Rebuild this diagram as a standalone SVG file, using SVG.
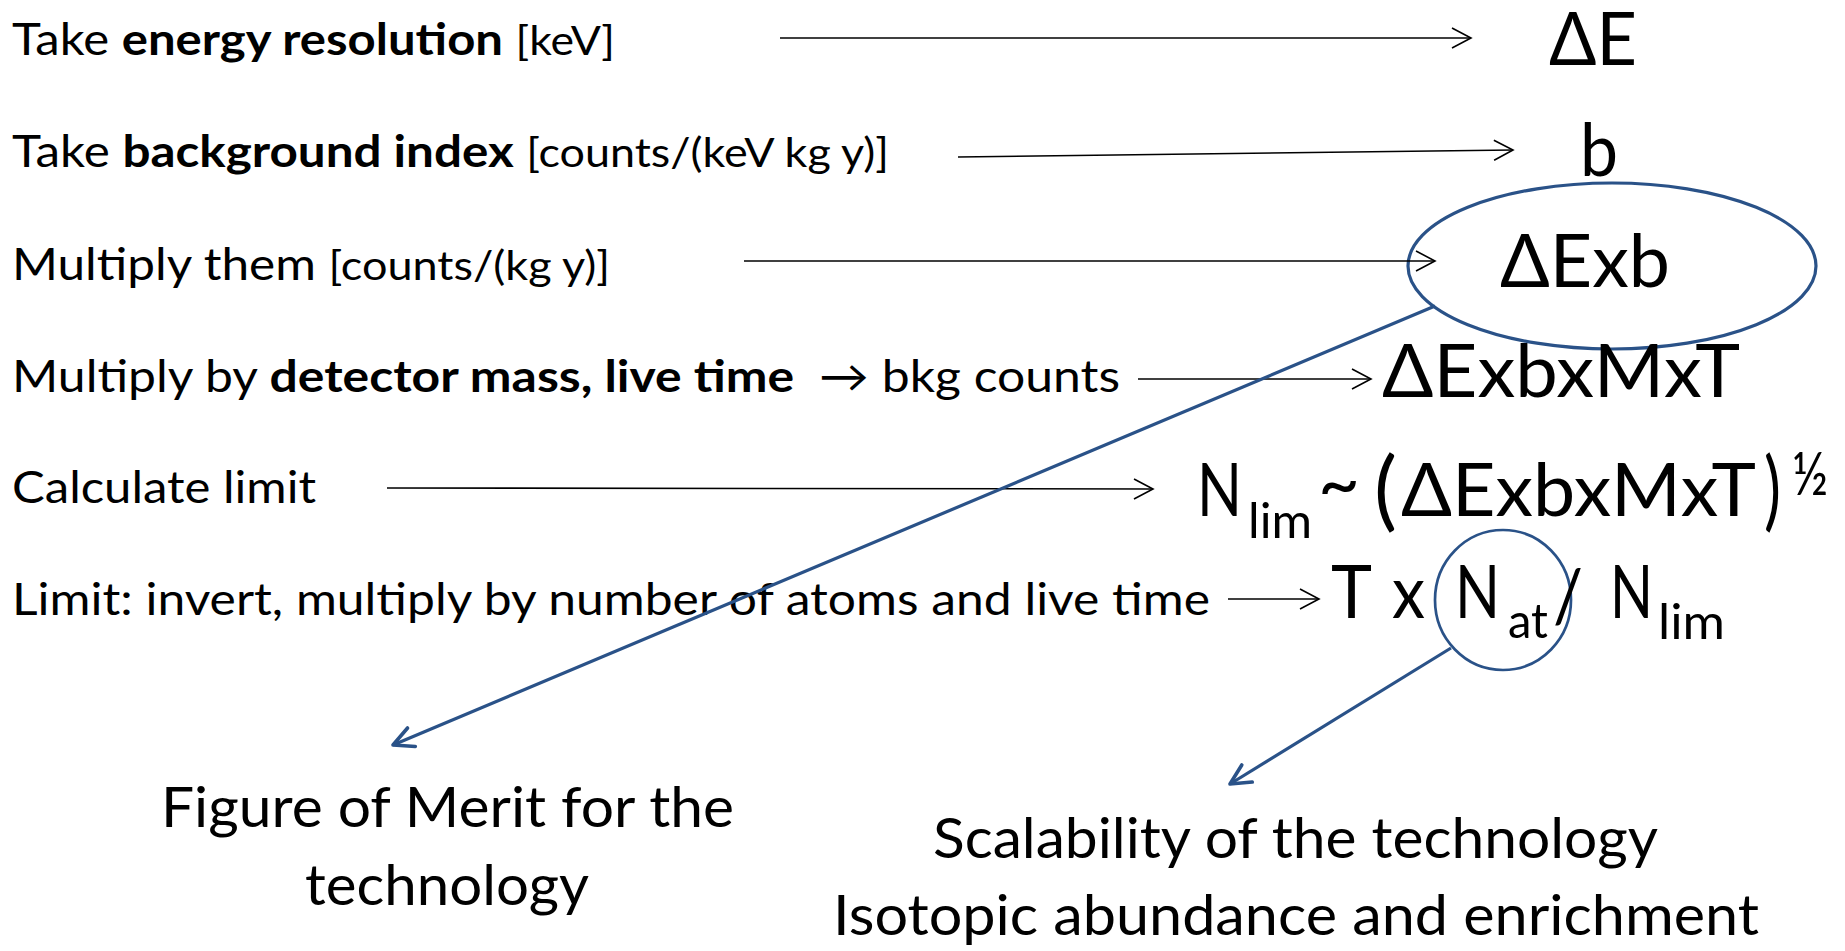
<svg xmlns="http://www.w3.org/2000/svg" width="1845" height="951" viewBox="0 0 1845 951">
<style>
.t { font-family: Lato, 'Liberation Sans', 'DejaVu Sans', sans-serif; fill: #000; }
.body { font-size: 44px; }
.unit { font-size: 40px; }
.bd { font-weight: bold; }
.big { font-size: 74px; }
.par { font-size: 88px; }
.sub { font-size: 49px; }
.sup { font-size: 60px; }
.foot { font-size: 56px; }
.arr { stroke: #000; stroke-width: 1.6; fill: none; marker-end: url(#ah); }
.barr { stroke: #2A5288; stroke-width: 3.2; fill: none; marker-end: url(#bh); }
.ring { stroke: #2A5288; fill: none; }
</style>
<defs>
<marker id="ah" markerUnits="userSpaceOnUse" markerWidth="30" markerHeight="30" refX="20" refY="11" orient="auto" overflow="visible">
<path d="M1,1 L20,11 L1,21" fill="none" stroke="#000" stroke-width="1.6"/>
</marker>
<marker id="bh" markerUnits="userSpaceOnUse" markerWidth="30" markerHeight="30" refX="0" refY="0" orient="auto" overflow="visible">
<path d="M-20,-10 L0,0 L-20,10" fill="none" stroke="#2A5288" stroke-width="3.6" stroke-linecap="round" stroke-linejoin="round"/>
</marker>
</defs>
<rect width="1845" height="951" fill="#fff"/>

<g id="step-energy">
<text class="t body" x="12" y="55" textLength="603" lengthAdjust="spacingAndGlyphs">Take <tspan class="bd">energy resolution</tspan> <tspan class="unit">[keV]</tspan></text>
</g>
<g id="step-background">
<text class="t body" x="12" y="167" textLength="877" lengthAdjust="spacingAndGlyphs">Take <tspan class="bd">background index</tspan> <tspan class="unit">[counts/(keV kg y)]</tspan></text>
</g>
<g id="step-multiply">
<text class="t body" x="12" y="280" textLength="598" lengthAdjust="spacingAndGlyphs">Multiply them <tspan class="unit">[counts/(kg y)]</tspan></text>
</g>
<g id="step-mass">
<text class="t body" x="12" y="392" textLength="1108" lengthAdjust="spacingAndGlyphs">Multiply by <tspan class="bd">detector mass, live time&#160;</tspan> → bkg counts</text>
</g>
<g id="step-limit">
<text class="t body" x="12" y="503" textLength="304" lengthAdjust="spacingAndGlyphs">Calculate limit</text>
</g>
<g id="step-invert">
<text class="t body" x="12" y="615" textLength="1198" lengthAdjust="spacingAndGlyphs">Limit: invert, multiply by number of atoms and live time</text>
</g>

<g id="res-dE">
<text class="t big" x="1549" y="65" textLength="88" lengthAdjust="spacingAndGlyphs">ΔE</text>
</g>
<g id="res-b">
<text class="t big" x="1580" y="176" textLength="38" lengthAdjust="spacingAndGlyphs">b</text>
</g>
<g id="res-dExb">
<ellipse class="ring" cx="1612" cy="266" rx="204" ry="83" stroke-width="3.2"/>
<text class="t big" x="1500" y="287" textLength="170" lengthAdjust="spacingAndGlyphs">ΔExb</text>
</g>
<g id="res-counts">
<text class="t big" x="1382" y="397" textLength="358" lengthAdjust="spacingAndGlyphs">ΔExbxMxT</text>
</g>
<g id="res-limit">
<text class="t big" x="1197" y="516" textLength="45" lengthAdjust="spacingAndGlyphs">N</text>
<text class="t sub" x="1248" y="538" textLength="64" lengthAdjust="spacingAndGlyphs">lim</text>
<text class="t big" x="1318" y="509" textLength="42" lengthAdjust="spacingAndGlyphs">~</text>
<text class="t par" x="1374" y="520" textLength="23" lengthAdjust="spacingAndGlyphs">(</text>
<text class="t big" x="1401" y="516" textLength="355" lengthAdjust="spacingAndGlyphs">ΔExbxMxT</text>
<text class="t par" x="1764" y="520" textLength="17" lengthAdjust="spacingAndGlyphs">)</text>
<text class="t sup" x="1792" y="495" textLength="36" lengthAdjust="spacingAndGlyphs">½</text>
</g>
<g id="res-sensitivity">
<ellipse class="ring" cx="1503" cy="600" rx="68" ry="70" stroke-width="2.7"/>
<text class="t big" x="1331" y="618" textLength="41" lengthAdjust="spacingAndGlyphs">T</text>
<text class="t big" x="1392" y="618" textLength="33" lengthAdjust="spacingAndGlyphs">x</text>
<text class="t big" x="1455" y="618" textLength="45" lengthAdjust="spacingAndGlyphs">N</text>
<text class="t sub" x="1508" y="638" textLength="40" lengthAdjust="spacingAndGlyphs">at</text>
<text class="t big" x="1553" y="622" textLength="30" lengthAdjust="spacingAndGlyphs">/</text>
<text class="t big" x="1610" y="618" textLength="43" lengthAdjust="spacingAndGlyphs">N</text>
<text class="t sub" x="1658" y="639" textLength="67" lengthAdjust="spacingAndGlyphs">lim</text>
</g>

<g id="note-merit">
<text class="t foot" x="161" y="827" textLength="573" lengthAdjust="spacingAndGlyphs">Figure of Merit for the</text>
<text class="t foot" x="305" y="905" textLength="284" lengthAdjust="spacingAndGlyphs">technology</text>
</g>
<g id="note-scalability">
<text class="t foot" x="933" y="858" textLength="725" lengthAdjust="spacingAndGlyphs">Scalability of the technology</text>
<text class="t foot" x="833" y="935" textLength="926" lengthAdjust="spacingAndGlyphs">Isotopic abundance and enrichment</text>
</g>

<g id="connectors">
<line class="arr" x1="780" y1="38" x2="1471" y2="38"/>
<line class="arr" x1="958" y1="157" x2="1513" y2="150"/>
<line class="arr" x1="744" y1="261" x2="1435" y2="261"/>
<line class="arr" x1="1138" y1="379" x2="1371" y2="379"/>
<line class="arr" x1="387" y1="488" x2="1153" y2="489"/>
<line class="arr" x1="1228" y1="599" x2="1319" y2="599"/>
<line class="barr" x1="1435" y1="306" x2="393" y2="745"/>
<line class="barr" x1="1451" y1="648" x2="1230" y2="784"/>
</g>
</svg>
